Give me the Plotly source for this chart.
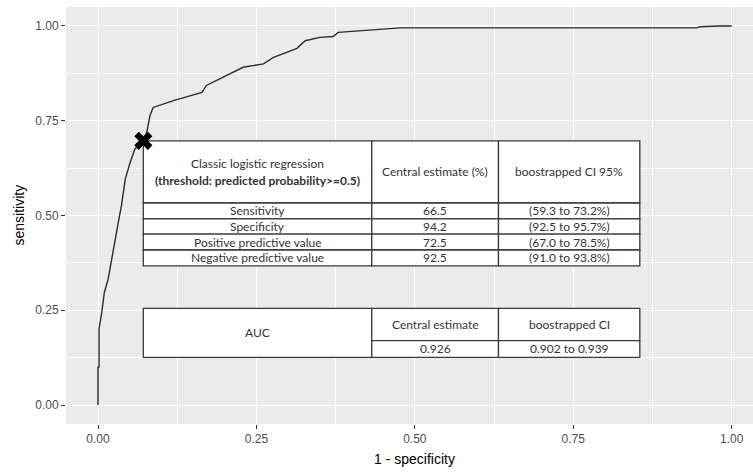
import plotly.graph_objects as go

# ROC curve
fpr = [0, 0, 0.0016, 0.0016, 0.006, 0.010, 0.016, 0.024, 0.032, 0.037, 0.043, 0.050,
       0.058, 0.0715, 0.077, 0.082, 0.087, 0.119, 0.164, 0.171, 0.229, 0.261, 0.277,
       0.314, 0.327, 0.350, 0.371, 0.379, 0.429, 0.477, 0.945, 0.950, 0.980, 1.0]
tpr = [0, 0.10, 0.10, 0.20, 0.245, 0.297, 0.332, 0.412, 0.482, 0.526, 0.596, 0.636,
       0.675, 0.697, 0.72, 0.763, 0.785, 0.803, 0.825, 0.843, 0.891, 0.900, 0.917,
       0.941, 0.961, 0.970, 0.972, 0.983, 0.989, 0.995, 0.995, 0.998, 1.0, 1.0]

# threshold point
thr_x = [0.0715]
thr_y = [0.697]

# table 1 content
t1_title = "Classic logistic regression"
t1_subtitle = "(threshold: predicted probability>=0.5)"
t1_headers = ["Central estimate (%)", "boostrapped CI 95%"]
t1_rows = ["Sensitivity", "Specificity", "Positive predictive value", "Negative predictive value"]
t1_est = ["66.5", "94.2", "72.5", "92.5"]
t1_ci = ["(59.3 to 73.2%)", "(92.5 to 95.7%)", "(67.0 to 78.5%)", "(91.0 to 93.8%)"]

# table 2 content
t2_label = "AUC"
t2_headers = ["Central estimate", "boostrapped CI"]
t2_est = "0.926"
t2_ci = "0.902 to 0.939"

x_ticks = [0, 0.25, 0.5, 0.75, 1.0]
x_ticklabels = ["0.00", "0.25", "0.50", "0.75", "1.00"]
y_ticks = [0, 0.25, 0.5, 0.75, 1.0]
y_ticklabels = ["0.00", "0.25", "0.50", "0.75", "1.00"]
x_title = "1 - specificity"
y_title = "sensitivity"

# table geometry (data coordinates)
cx = [0.0715, 0.432, 0.632, 0.855]
t1_y = [0.697, 0.533, 0.491, 0.451, 0.409, 0.367]
t2_y = [0.255, 0.170, 0.126]

fig = go.Figure()
fig.add_trace(go.Scatter(x=fpr, y=tpr, mode="lines",
                         line=dict(color="#2b2b2b", width=1.4), hoverinfo="skip"))

shapes = []
LC = "#3a3a3a"
LW = 1.3

def rect(x0, x1, y0, y1):
    shapes.append(dict(type="rect", xref="x", yref="y", x0=x0, x1=x1, y0=y0, y1=y1,
                       fillcolor="white", line=dict(color=LC, width=LW), layer="between"))

# table 1 cells
rect(cx[0], cx[1], t1_y[1], t1_y[0])
rect(cx[1], cx[2], t1_y[1], t1_y[0])
rect(cx[2], cx[3], t1_y[1], t1_y[0])
for i in range(4):
    for j in range(3):
        rect(cx[j], cx[j + 1], t1_y[i + 2], t1_y[i + 1])

# table 2 cells
rect(cx[0], cx[1], t2_y[2], t2_y[0])
rect(cx[1], cx[2], t2_y[1], t2_y[0])
rect(cx[2], cx[3], t2_y[1], t2_y[0])
rect(cx[1], cx[2], t2_y[2], t2_y[1])
rect(cx[2], cx[3], t2_y[2], t2_y[1])

TF = dict(family="Lato, 'Open Sans', sans-serif", size=12, color="#333333")
ann = []

def txt(x, y, s):
    ann.append(dict(x=x, y=y, xref="x", yref="y", text=s, showarrow=False,
                    font=TF, xanchor="center", yanchor="middle"))

mid = lambda a, b: (a + b) / 2
h_mid = mid(t1_y[0], t1_y[1])
txt(mid(cx[0], cx[1]), h_mid + 0.023, t1_title)
txt(mid(cx[0], cx[1]), h_mid - 0.022, "<b>" + t1_subtitle + "</b>")
txt(mid(cx[1], cx[2]), h_mid, t1_headers[0])
txt(mid(cx[2], cx[3]), h_mid, t1_headers[1])
for i in range(4):
    ym = mid(t1_y[i + 1], t1_y[i + 2])
    txt(mid(cx[0], cx[1]), ym, t1_rows[i])
    txt(mid(cx[1], cx[2]), ym, t1_est[i])
    txt(mid(cx[2], cx[3]), ym, t1_ci[i])

txt(mid(cx[0], cx[1]), mid(t2_y[0], t2_y[2]), t2_label)
txt(mid(cx[1], cx[2]), mid(t2_y[0], t2_y[1]), t2_headers[0])
txt(mid(cx[2], cx[3]), mid(t2_y[0], t2_y[1]), t2_headers[1])
txt(mid(cx[1], cx[2]), mid(t2_y[1], t2_y[2]), t2_est)
txt(mid(cx[2], cx[3]), mid(t2_y[1], t2_y[2]), t2_ci)

AF = dict(family="Liberation Sans, Arial", size=14, color="black")
ann.append(dict(x=0.5, y=0, xref="x", yref="paper", yshift=-35, text=x_title,
                showarrow=False, font=AF, xanchor="center", yanchor="middle"))
ann.append(dict(x=0, y=0.5, xref="paper", yref="y", xshift=-48, text=y_title,
                showarrow=False, font=AF, textangle=-90, xanchor="center", yanchor="middle"))

fig.add_trace(go.Scatter(x=thr_x, y=thr_y, mode="markers",
                         marker=dict(symbol="x", size=16, color="black",
                                     line=dict(width=0)), hoverinfo="skip"))

axis_common = dict(showgrid=True, gridcolor="white", gridwidth=1.2, zeroline=False,
                   ticks="outside", ticklen=4, tickcolor="#333333", tickwidth=1,
                   tickfont=dict(family="Liberation Sans, Arial", size=12, color="#4d4d4d"),
                   showline=False, automargin=False,
                   minor=dict(dtick=0.125, showgrid=True, gridcolor="white", gridwidth=0.5, ticks=""))

fig.update_layout(
    width=753, height=472,
    margin=dict(l=66, r=0, t=7, b=48),
    plot_bgcolor="#EBEBEB", paper_bgcolor="white",
    showlegend=False,
    shapes=shapes, annotations=ann,
    xaxis=dict(range=[-0.0505, 1.0336], tickvals=x_ticks, ticktext=x_ticklabels,
               **axis_common),
    yaxis=dict(range=[-0.05, 1.05], tickvals=y_ticks, ticktext=y_ticklabels,
               **axis_common),
)

fig.write_html("out.html", config={"displayModeBar": False},
               post_script="document.body.style.margin='0';")
